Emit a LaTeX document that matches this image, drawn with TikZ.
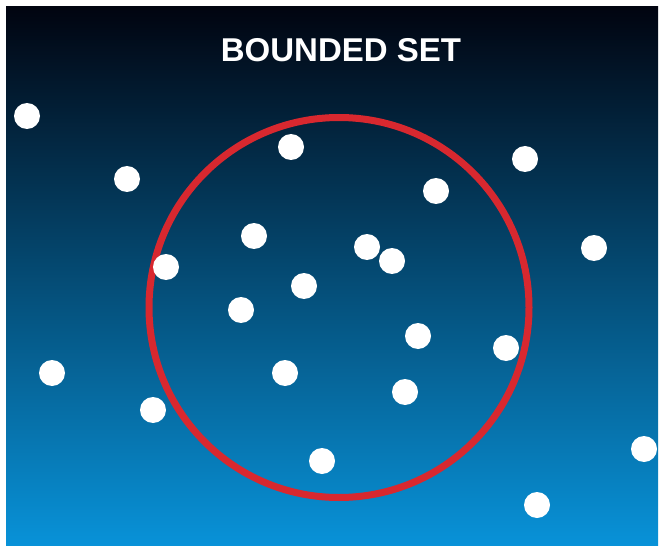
\documentclass[tikz,border=0pt]{standalone}
\usepackage{fontspec}
\setmainfont{Liberation Sans}
\usepackage{tikz}
\usetikzlibrary{positioning}
\definecolor{skytop}{HTML}{010410}
\definecolor{skymid}{HTML}{075592}
\definecolor{skybot}{HTML}{0892D8}
\definecolor{ringred}{HTML}{D8282F}
\tikzset{
  point/.style={circle,fill=white,minimum size=26pt,inner sep=0pt},
  bound/.style={circle,draw=ringred,line width=7pt,minimum size=380pt,inner sep=0pt},
  heading/.style={text=white,inner sep=0pt,font=\bfseries\fontsize{33}{33}\selectfont}
}

\begin{document}
\begin{tikzpicture}[x=1pt,y=-1pt]
  \fill[white] (0,0) rectangle (661,548);
  \shade[top color=skytop,middle color=skymid,bottom color=skybot] (6,7) rectangle (658,545);
  \node[heading] (title) at (341,50) {BOUNDED SET};
  % the bounding circle
  \node[bound] (ring) at (339,307.5) {};
  % the points of the set
  \foreach \px/\py [count=\i] in {27/116,127/179,291/147,525/159,436/191,
      254/236,166/267,367/247,392/261,594/248,304/286,241/310,418/336,
      506/348,52/373,285/373,405/392,153/410,322/461,644/449,537/505}
    \node[point] (p\i) at (\px,\py) {};
\end{tikzpicture}
\end{document}
